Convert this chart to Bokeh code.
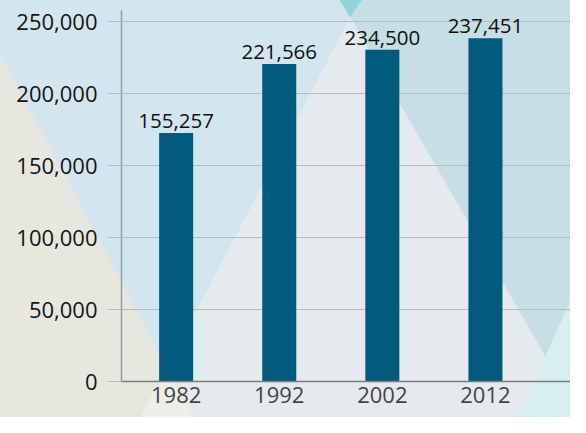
from urllib.parse import quote
from bokeh.plotting import figure
from bokeh.models import Range1d, FixedTicker, NumeralTickFormatter, ColumnDataSource
from bokeh.core.properties import value
from bokeh.embed import file_html
from bokeh.resources import INLINE

# ---- data ----
years = ["1982", "1992", "2002", "2012"]
bar_heights = [172700, 220600, 230600, 238600]
value_labels = ["155,257", "221,566", "234,500", "237,451"]
y_ticks = [0, 50000, 100000, 150000, 200000, 250000]

xpos = list(range(len(years)))
src = ColumnDataSource(dict(x=xpos, top=bar_heights, label=value_labels))

FONT = "Open Sans"
W, H = 570, 417

p = figure(width=W, height=H, output_backend="svg", toolbar_location=None,
           x_range=Range1d(-0.530, 3.825), y_range=Range1d(0, 257800),
           min_border_left=121, min_border_right=0, min_border_top=10,
           min_border_bottom=36)

# decorative background (drawn in reference-pixel space, scaled to the figure)
bg_polys = [
    ("#c5dfe5", "350,0 600,0 600,440 601,440"),
    ("#e4eaee", "360,18 600,440 141,440"),
    ("#e8e7df", "0,55 0,440 202,440"),
    ("#eeede8", "171,381 202,440 141,440"),
    ("#d8eff2", "600,281 600,440 530,440"),
    ("#95d2e0", "349,0 372,0 360,18"),
]
svg = (f"<svg xmlns='http://www.w3.org/2000/svg' width='{W}' height='{H}'>"
       f"<g transform='scale({W/586:.4f},{H/433:.4f})'>"
       "<rect x='0' y='0' width='600' height='450' fill='#d3e5ee'/>")
for col, pts in bg_polys:
    svg += f"<polygon points='{pts}' fill='{col}'/>"
svg += "</g></svg>"
p.styles = {"background-image": f'url("data:image/svg+xml;utf8,{quote(svg)}")',
            "background-repeat": "no-repeat"}

p.background_fill_color = None
p.border_fill_color = None
p.outline_line_color = None

p.vbar(x="x", top="top", width=0.33, source=src, fill_color="#015b7d", line_color=None)
p.text(x="x", y="top", text="label", source=src, text_align="center",
       text_baseline="bottom", y_offset=-5, text_font=value(FONT),
       text_font_size="20.5px", text_color="#111111")

# y axis
ya = p.yaxis[0]
ya.ticker = FixedTicker(ticks=y_ticks)
ya.formatter = NumeralTickFormatter(format="0,0")
ya.axis_line_color = "#9a9a9a"
ya.axis_line_width = 1.5
ya.major_tick_out = 14
ya.major_tick_in = 0
ya.major_tick_line_color = "#b9bcbf"
ya.major_tick_line_width = 1.2
ya.minor_tick_line_color = None
ya.major_label_standoff = 10
ya.major_label_text_font = FONT
ya.major_label_text_font_size = "22px"
ya.major_label_text_color = "#151515"

# x axis
xa = p.xaxis[0]
xa.ticker = FixedTicker(ticks=xpos)
xa.major_label_overrides = {i: y for i, y in zip(xpos, years)}
xa.axis_line_color = "#7d7d7d"
xa.axis_line_width = 1.5
xa.major_tick_line_color = None
xa.major_tick_out = 0
xa.major_tick_in = 0
xa.minor_tick_line_color = None
xa.major_label_standoff = 5
xa.major_label_text_font = FONT
xa.major_label_text_font_size = "22px"
xa.major_label_text_color = "#444444"

p.xgrid.visible = False
p.ygrid.grid_line_color = "#b9bcbf"
p.ygrid.grid_line_width = 1.2

open("out.html", "w").write(file_html(p, INLINE))
